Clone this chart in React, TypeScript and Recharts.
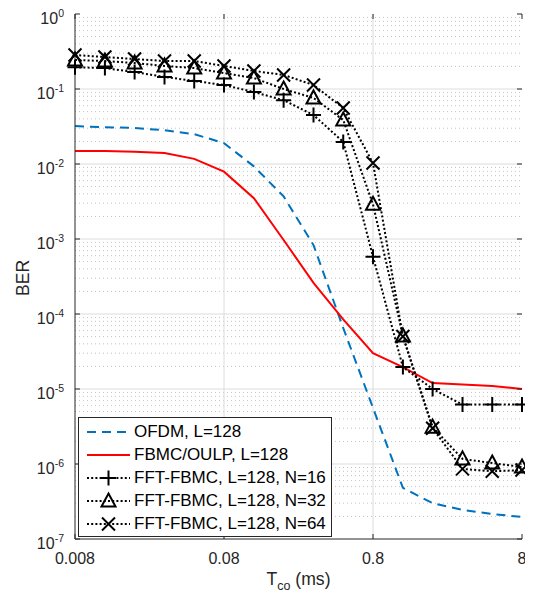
import {
  Legend,
  Line,
  LineChart,
  ReferenceLine,
  XAxis,
  YAxis,
} from 'recharts';

// coherence time axis (ms), log spaced
const T_CO = [0.008, 0.0127, 0.0201, 0.0319, 0.0505, 0.08, 0.127, 0.201, 0.319, 0.505, 0.8, 1.27, 2.01, 3.19, 5.05, 8];

const OFDM = [0.032, 0.031, 0.0302, 0.0282, 0.025, 0.019, 0.0093, 0.0037, 0.00083, 0.000065, 0.0000056, 4.8e-7, 3.0e-7, 2.45e-7, 2.15e-7, 1.97e-7];
const FBMC_OULP = [0.0149, 0.0149, 0.0146, 0.014, 0.0117, 0.0079, 0.0035, 0.00097, 0.00026, 0.000085, 0.00003, 0.0000196, 0.000012, 0.0000115, 0.000011, 0.00001];
const FFT_N16 = [0.195, 0.19, 0.168, 0.145, 0.128, 0.113, 0.091, 0.071, 0.045, 0.0197, 0.00058, 0.0000196, 0.00001, 0.0000062, 0.0000062, 0.0000062];
const FFT_N32 = [0.244, 0.236, 0.222, 0.203, 0.19, 0.163, 0.14, 0.1, 0.076, 0.0386, 0.0029, 0.000051, 0.0000031, 0.00000117, 0.00000103, 0.00000091];
const FFT_N64 = [0.284, 0.267, 0.251, 0.236, 0.236, 0.203, 0.174, 0.154, 0.113, 0.0558, 0.0103, 0.00005, 0.000003, 0.00000086, 0.0000008, 0.00000083];

const X_TICKS = [0.008, 0.08, 0.8, 8];
const X_TICK_LABELS = ['0.008', '0.08', '0.8', '8'];
const Y_EXPONENTS = [-7, -6, -5, -4, -3, -2, -1, 0];
const Y_TICKS = Y_EXPONENTS.map((e) => Math.pow(10, e));
const MINOR_MULTIPLES = [2, 3, 4, 5, 6, 7, 8, 9];
const Y_MINOR = Y_EXPONENTS.slice(0, -1).flatMap((e) => MINOR_MULTIPLES.map((m) => m * Math.pow(10, e)));

const data = T_CO.map((t, i) => ({
  t,
  ofdm: OFDM[i],
  oulp: FBMC_OULP[i],
  n16: FFT_N16[i],
  n32: FFT_N32[i],
  n64: FFT_N64[i],
}));

const W = 525;
const H = 587;
const PLOT = { left: 67, top: 6, right: 514, bottom: 531 };
const AXIS = '#262626';
const FONT = '"Liberation Sans", Arial, sans-serif';

type MarkerKind = 'plus' | 'tri' | 'cross';

const Marker = ({ kind, cx, cy }: { kind: MarkerKind; cx: number; cy: number }) => {
  if (kind === 'plus') {
    return (
      <path d={`M${cx - 7.5},${cy}H${cx + 7.5}M${cx},${cy - 7.5}V${cy + 7.5}`} stroke="#000" strokeWidth={2} fill="none" />
    );
  }
  if (kind === 'tri') {
    return (
      <polygon
        points={`${cx},${cy - 7.5} ${cx + 7},${cy + 5.5} ${cx - 7},${cy + 5.5}`}
        stroke="#000"
        strokeWidth={2}
        fill="none"
      />
    );
  }
  return (
    <path
      d={`M${cx - 6.5},${cy - 6.5}L${cx + 6.5},${cy + 6.5}M${cx + 6.5},${cy - 6.5}L${cx - 6.5},${cy + 6.5}`}
      stroke="#000"
      strokeWidth={2}
      fill="none"
    />
  );
};

const SERIES = [
  { key: 'ofdm', name: 'OFDM, L=128', color: '#0072BD', dash: '9 6', marker: null },
  { key: 'oulp', name: 'FBMC/OULP, L=128', color: '#FF0000', dash: undefined, marker: null },
  { key: 'n16', name: 'FFT-FBMC, L=128, N=16', color: '#000', dash: '2 2.2', marker: 'plus' as MarkerKind },
  { key: 'n32', name: 'FFT-FBMC, L=128, N=32', color: '#000', dash: '2 2.2', marker: 'tri' as MarkerKind },
  { key: 'n64', name: 'FFT-FBMC, L=128, N=64', color: '#000', dash: '2 2.2', marker: 'cross' as MarkerKind },
];

const XTick = ({ x, payload }: any) => {
  const idx = X_TICKS.indexOf(payload.value);
  return (
    <g>
      <line x1={x} x2={x} y1={PLOT.bottom} y2={PLOT.bottom - 5} stroke={AXIS} />
      <line x1={x} x2={x} y1={PLOT.top} y2={PLOT.top + 5} stroke={AXIS} />
      <text x={x} y={PLOT.bottom + 25} textAnchor="middle" fontSize={16} fill={AXIS} fontFamily={FONT}>
        {X_TICK_LABELS[idx]}
      </text>
    </g>
  );
};

const YTick = ({ y, payload }: any) => {
  const exp = Math.round(Math.log10(payload.value));
  return (
    <g>
      <line x1={PLOT.left} x2={PLOT.left + 5} y1={y} y2={y} stroke={AXIS} />
      <line x1={PLOT.right} x2={PLOT.right - 5} y1={y} y2={y} stroke={AXIS} />
      <text x={PLOT.left - 11} y={y + 10} textAnchor="end" fontSize={16} fill={AXIS} fontFamily={FONT}>
        <tspan>10</tspan>
        <tspan dy={-7.5} fontSize={10.5}>{String(exp)}</tspan>
      </text>
    </g>
  );
};

const MinorTick = ({ y }: any) => (
  <g>
    <line x1={PLOT.left} x2={PLOT.left + 3} y1={y} y2={y} stroke={AXIS} />
    <line x1={PLOT.right} x2={PLOT.right - 3} y1={y} y2={y} stroke={AXIS} />
  </g>
);

const LegendBox = () => (
  <div
    style={{
      width: 252,
      height: 115,
      border: `1px solid ${AXIS}`,
      background: '#fff',
      fontFamily: FONT,
      fontSize: 17,
      color: '#000',
      paddingTop: 3,
      boxSizing: 'content-box',
    }}
  >
    {SERIES.map((s) => (
      <div key={s.key} style={{ display: 'flex', alignItems: 'center', height: 22.8, whiteSpace: 'nowrap' }}>
        <svg width={55} height={20} style={{ flex: 'none' }}>
          <line x1={8} x2={51} y1={10} y2={10} stroke={s.color} strokeWidth={2} strokeDasharray={s.dash} />
          {s.marker && <Marker kind={s.marker} cx={29.5} cy={10} />}
        </svg>
        <span style={{ marginLeft: 0 }}>{s.name}</span>
      </div>
    ))}
  </div>
);

export default function App() {
  return (
    <div style={{ width: W, height: H, fontFamily: FONT }}>
      <LineChart width={W} height={H} data={data} margin={{ top: PLOT.top, right: W - PLOT.right, bottom: 0, left: 0 }}>
        <XAxis
          xAxisId="t"
          dataKey="t"
          type="number"
          scale="log"
          domain={[0.008, 8]}
          ticks={X_TICKS}
          height={H - PLOT.bottom}
          axisLine={{ stroke: AXIS }}
          tickLine={false}
          tick={<XTick />}
          interval={0}
          label={{
            content: () => (
              <text x={(PLOT.left + PLOT.right) / 2} y={577} textAnchor="middle" fontSize={17.6} fill={AXIS} fontFamily={FONT}>
                T<tspan dy={5} fontSize={12.5}>co</tspan>
                <tspan dy={-5}> (ms)</tspan>
              </text>
            ),
          }}
        />
        <XAxis
          xAxisId="top"
          orientation="top"
          type="number"
          scale="log"
          domain={[0.008, 8]}
          height={0}
          axisLine={{ stroke: AXIS }}
          tick={false}
          tickLine={false}
        />
        <YAxis
          yAxisId="ber"
          type="number"
          scale="log"
          domain={[1e-7, 1]}
          ticks={Y_TICKS}
          interval={0}
          width={PLOT.left}
          axisLine={{ stroke: AXIS }}
          tickLine={false}
          tick={<YTick />}
          label={{
            content: () => (
              <text
                x={20.5}
                y={270}
                transform={`rotate(-90 20.5 270)`}
                textAnchor="middle"
                fontSize={17.6}
                fill={AXIS}
                fontFamily={FONT}
              >
                BER
              </text>
            ),
          }}
        />
        <YAxis
          yAxisId="minor"
          type="number"
          scale="log"
          domain={[1e-7, 1]}
          ticks={Y_MINOR}
          interval={0}
          width={0}
          axisLine={false}
          tickLine={false}
          tick={<MinorTick />}
        />
        <YAxis
          yAxisId="right"
          orientation="right"
          type="number"
          scale="log"
          domain={[1e-7, 1]}
          width={0}
          axisLine={{ stroke: AXIS }}
          tick={false}
          tickLine={false}
        />
        {Y_MINOR.map((v) => (
          <ReferenceLine
            key={`ym-${v}`}
            xAxisId="t"
            yAxisId="ber"
            y={v}
            stroke="#c4c4c4"
            strokeDasharray="1 3"
          />
        ))}
        {Y_TICKS.slice(1, -1).map((v) => (
          <ReferenceLine key={`y-${v}`} xAxisId="t" yAxisId="ber" y={v} stroke="#dcdcdc" />
        ))}
        {X_TICKS.slice(1, -1).map((v) => (
          <ReferenceLine key={`x-${v}`} xAxisId="t" yAxisId="ber" x={v} stroke="#dcdcdc" />
        ))}
        {SERIES.map((s) => (
          <Line
            key={s.key}
            xAxisId="t"
            yAxisId="ber"
            dataKey={s.key}
            name={s.name}
            type="linear"
            stroke={s.color}
            strokeWidth={2}
            strokeDasharray={s.dash}
            isAnimationActive={false}
            dot={
              s.marker
                ? (p: any) => <Marker key={`${s.key}-${p.index}`} kind={s.marker as MarkerKind} cx={p.cx} cy={p.cy} />
                : false
            }
            activeDot={false}
          />
        ))}
        <Legend
          layout="vertical"
          align="center"
          verticalAlign="middle"
          content={() => <LegendBox />}
          wrapperStyle={{ position: 'absolute', left: 70, top: 409, width: 254, height: 120 }}
        />
      </LineChart>
    </div>
  );
}
